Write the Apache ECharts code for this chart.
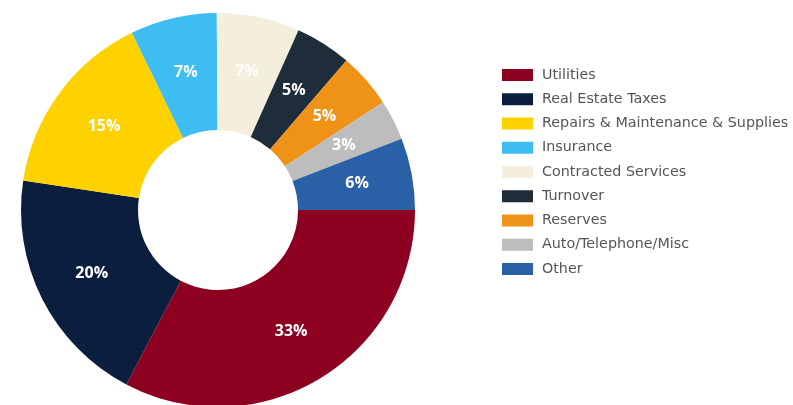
<!DOCTYPE html>
<html>
<head>
<meta charset="utf-8">
<script src="https://cdn.jsdelivr.net/npm/echarts@6/dist/echarts.min.js"></script>
<style>
  html, body { margin: 0; padding: 0; background: #fff; }
  #chart { width: 793px; height: 405px; }
</style>
</head>
<body>
<div id="chart"></div>
<script>
// Operating expense breakdown (share of total, %)
const categories = [
  'Utilities',
  'Real Estate Taxes',
  'Repairs & Maintenance & Supplies',
  'Insurance',
  'Contracted Services',
  'Turnover',
  'Reserves',
  'Auto/Telephone/Misc',
  'Other'
];
const shares = [32.7, 19.7, 15.4, 7.1, 6.8, 4.6, 4.5, 3.3, 5.9];
const colors = [
  '#8E0020', '#0B1E3E', '#FED200', '#3DBDF2', '#F4EEDD',
  '#1F2C39', '#EE9317', '#BDBDBD', '#2A60A6'
];

const pieData = categories.map((name, i) => ({
  name,
  value: shares[i],
  itemStyle: { color: colors[i] }
}));

const chart = echarts.init(document.getElementById('chart'), null, { renderer: 'canvas' });
chart.setOption({
  animation: false,
  backgroundColor: '#ffffff',
  legend: {
    orient: 'vertical',
    left: 497,
    top: 63,
    itemWidth: 31,
    itemHeight: 12,
    itemGap: 10.25,
    icon: 'rect',
    selectedMode: false,
    textStyle: {
      fontFamily: 'DejaVu Sans, Verdana, sans-serif',
      fontSize: 14.3,
      lineHeight: 12,
      color: '#555',
      padding: [0, 0, 0, 4]
    },
    data: categories
  },
  series: [{
    type: 'pie',
    center: [218, 210],
    radius: [80, 197],
    startAngle: 0,
    clockwise: true,
    avoidLabelOverlap: false,
    label: {
      show: true,
      position: 'inside',
      color: '#ffffff',
      fontFamily: 'Open Sans, DejaVu Sans, sans-serif',
      fontSize: 16,
      fontWeight: 'bold',
      formatter: p => Math.round(p.value) + '%'
    },
    labelLine: { show: false },
    itemStyle: { borderWidth: 0 },
    emphasis: { disabled: true },
    data: pieData
  }]
});
</script>
</body>
</html>
